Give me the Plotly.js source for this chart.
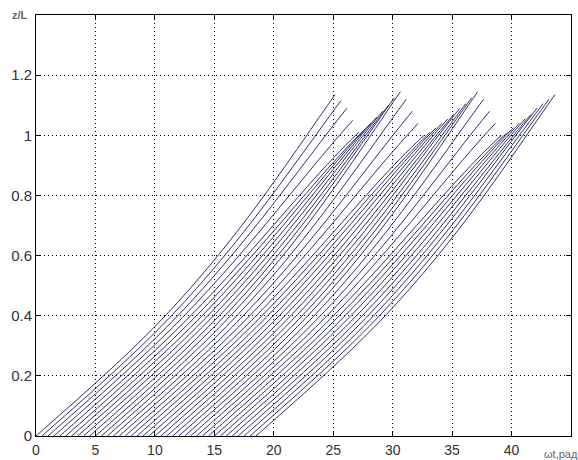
<!DOCTYPE html>
<html>
<head>
<meta charset="utf-8">
<script src="https://cdn.plot.ly/plotly-3.0.1.min.js"></script>
<style>html,body{margin:0;padding:0;background:#fff;}#chart{width:578px;height:460px;}</style>
</head>
<body>
<div id="chart"></div>
<script>
// start phase (ωt at z = 0) of each trajectory
const startPhase = [0,0.5,1,1.5,2,2.5,3,3.5,4,4.5,5,5.5,6,6.5,7,7.5,8,8.5,9,9.5,
                    10,10.5,11,11.5,12,12.5,13,13.5,14,14.5,15,15.5,16,16.5,17,17.5,18,18.5];
// z/L reached at the end of each trajectory
const endHeight = [1.135,1.115,1.09,1.05,1.01,1.02,1.04,1.06,1.08,1.10,1.125,1.145,
                   1.12,1.08,1.04,1.00,1.01,1.025,1.04,1.055,1.07,1.09,1.105,1.125,1.145,
                   1.12,1.08,1.04,1.00,1.01,1.025,1.04,1.055,1.07,1.09,1.105,1.12,1.135];
// common trajectory profile: elapsed ωt and z/L
const profileT = [0,2,4,6,8,10,12,14,16,18,20,22,24,25.15];
const profileZ = [0,0.07,0.14,0.212,0.286,0.364,0.448,0.538,0.634,0.736,0.844,0.956,1.07,1.135];
const xTicks = [0,5,10,15,20,25,30,35,40];
const yTicks = [0,0.2,0.4,0.6,0.8,1,1.2];
const yTickText = ['0','0.2','0.4','0.6','0.8','1','1.2'];

const zEnd = profileZ[profileZ.length-1];
const traces = startPhase.map((s,i)=>{
  const x = profileT.map(t=>s+t);
  const y = profileZ.map(z=>{const w=Math.pow(z/zEnd,2);return z*(1+(endHeight[i]/zEnd-1)*w);});
  return {x:x,y:y,type:'scatter',mode:'lines',line:{color:'#30306a',width:1,shape:'spline',smoothing:1},hoverinfo:'skip',showlegend:false};
});

const tickFont = {family:'Liberation Sans, Arial, sans-serif',size:15,color:'#333'};
const axisCommon = {showline:true,linecolor:'#000',linewidth:1,mirror:'ticks',ticks:'inside',ticklen:5,tickcolor:'#000',
  showgrid:true,gridcolor:'#000',gridwidth:1,griddash:'1px,3px',zeroline:false,tickfont:tickFont};

const layout = {
  width:578,height:460,
  margin:{l:36,r:7,t:15,b:24},
  paper_bgcolor:'#fff',plot_bgcolor:'#fff',
  xaxis:Object.assign({},axisCommon,{range:[0,45],tickvals:xTicks,ticktext:xTicks.map(String),ticklabelstandoff:1,
    tickfont:{family:'Liberation Sans, Arial, sans-serif',size:14,color:'#333'}}),
  yaxis:Object.assign({},axisCommon,{range:[0,1.4],tickvals:yTicks,ticktext:yTickText,ticklabelstandoff:0}),
  annotations:[
    {text:'<b>z/L</b>',xref:'paper',yref:'paper',x:-0.03,y:1.0,xanchor:'center',yanchor:'middle',showarrow:false,
     font:{family:'Liberation Sans, Arial, sans-serif',size:11,color:'#666'}},
    {text:'ωt,рад',xref:'paper',yref:'paper',x:0.946,y:-0.043,xanchor:'left',yanchor:'middle',showarrow:false,
     font:{family:'Liberation Sans, Arial, sans-serif',size:11,color:'#666'}}
  ]
};
Plotly.newPlot('chart',traces,layout,{displayModeBar:false,staticPlot:true});
</script>
</body>
</html>
